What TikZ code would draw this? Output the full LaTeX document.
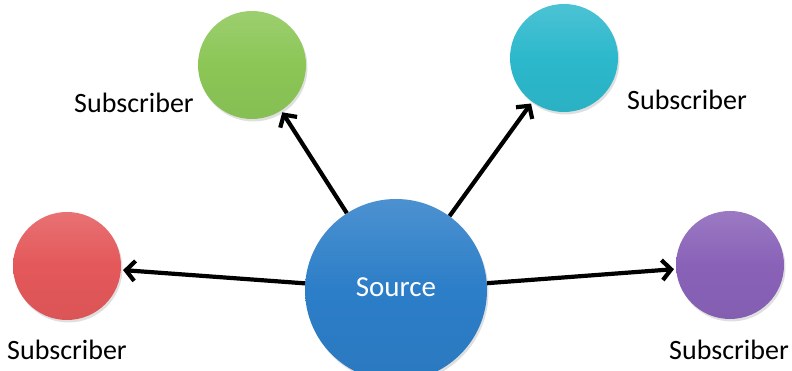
\documentclass[tikz,border=0pt]{standalone}
\usepackage{fontspec}
\setmainfont{Carlito}
\usetikzlibrary{arrows.meta,shadows}
\definecolor{cgreen}{RGB}{139,198,86}
\definecolor{ccyan}{RGB}{44,184,204}
\definecolor{cred}{RGB}{228,88,90}
\definecolor{cpurple}{RGB}{137,98,184}
\definecolor{cblue}{RGB}{44,126,200}
\tikzset{
  ball/.style={circle, draw=none, inner sep=0pt, minimum size=108pt,
    top color=#1!85!white, bottom color=#1!96!black, middle color=#1,
    drop shadow={opacity=0.25, shadow xshift=1.5pt, shadow yshift=-2.5pt}},
  lbl/.style={font=\fontsize{28}{30}\selectfont, text=black, inner sep=0pt},
  conn/.style={line width=4.2pt, -{Straight Barb[length=9pt,width=20pt,line width=4.2pt]}, shorten >=2pt}
}
\begin{document}
\begin{tikzpicture}[x=1pt,y=1pt]
\useasboundingbox (0,0) rectangle (792,371);
\clip (0,0) rectangle (792,371);
\node[ball=cblue, minimum size=182pt] (src) at (396,81) {};
\node[ball=cgreen] (g) at (252,306) {};
\node[ball=ccyan] (c) at (564,313) {};
\node[ball=cred] (r) at (67,105) {};
\node[ball=cpurple] (p) at (730,106) {};
\node[lbl, text=white, font=\fontsize{29}{31}\selectfont] (srct) at (396,84) {Source};
\node[lbl] (gl) at (134,268) {Subscriber};
\node[lbl] (cl) at (687,271) {Subscriber};
\node[lbl] (rl) at (67,21) {Subscriber};
\node[lbl] (pl) at (729,21) {Subscriber};
\draw[conn] (src) -- (g);
\draw[conn] (src) -- (c);
\draw[conn] (src) -- (r);
\draw[conn] (src) -- (p);
\end{tikzpicture}
\end{document}
